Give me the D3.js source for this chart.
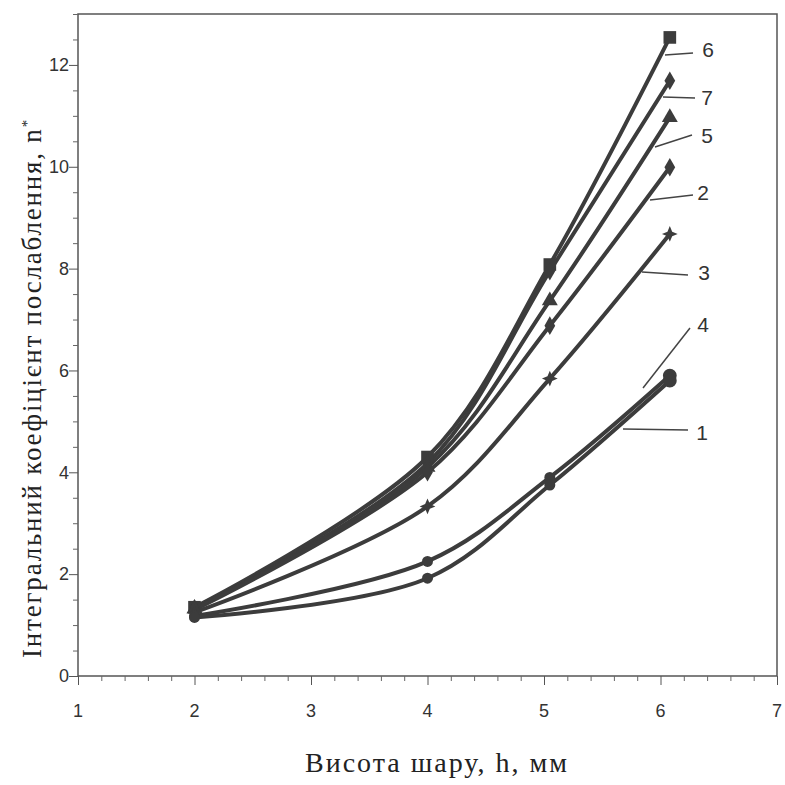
<!DOCTYPE html>
<html>
<head>
<meta charset="utf-8">
<script src="https://cdn.jsdelivr.net/npm/d3@7"></script>
<style>
  body { margin: 0; background: #fff; }
  .tick-label { font-family: "Liberation Sans", Arial, sans-serif; font-size: 18px; fill: #333; }
  .axis-title { font-family: "Liberation Serif", "Times New Roman", serif; fill: #222; }
  .series-label { font-family: "Liberation Sans", Arial, sans-serif; font-size: 21px; fill: #333; }
</style>
</head>
<body>
<div id="canvas"></div>
<script>
"use strict";

/* Data */
let heights = [2, 4, 5.05, 6.08];           // x positions of the measurements
let seriesNames = ["6", "7", "5", "2", "3", "4", "1"];
let series6 = [1.35, 4.30, 8.08, 12.54];
let series7 = [1.33, 4.18, 7.95, 11.69];
let series5 = [1.32, 4.10, 7.37, 10.97];
let series2 = [1.30, 4.00, 6.88, 9.99];
let series3 = [1.25, 3.33, 5.84, 8.68];
let series4 = [1.18, 2.25, 3.90, 5.90];
let series1 = [1.15, 1.92, 3.75, 5.80];
let seriesMarkers = ["square", "diamond", "triangle", "diamond", "star4", "circle", "circle"];
let xTicks = [1, 2, 3, 4, 5, 6, 7];
let yTicks = [0, 2, 4, 6, 8, 10, 12];

let allSeries = [series6, series7, series5, series2, series3, series4, series1];

/* Drawing config */
let svgWidth = 785;
let svgHeight = 785;
let margin = { left: 78, right: 8, top: 14, bottom: 109 };
let ink = "#3c3c3c";

let svg = d3.select("#canvas")
  .append("svg")
  .attr("width", svgWidth)
  .attr("height", svgHeight);

let xScale = d3.scaleLinear()
  .domain([1, 7])
  .range([margin.left, svgWidth - margin.right]);

let yScale = d3.scaleLinear()
  .domain([0, 13])
  .range([svgHeight - margin.bottom, margin.top]);

/* Frame */
svg.append("rect")
  .attr("x", xScale(1))
  .attr("y", yScale(13))
  .attr("width", xScale(7) - xScale(1))
  .attr("height", yScale(0) - yScale(13))
  .attr("fill", "none")
  .attr("stroke", "#555")
  .attr("stroke-width", 1.5);

/* X axis: majors every 1, minors every 0.2, pointing down */
svg.append("g")
  .attr("transform", "translate(0," + yScale(0) + ")")
  .call(d3.axisBottom(xScale).tickValues(xTicks).tickSize(9).tickFormat(""))
  .call(g => g.select(".domain").remove())
  .call(g => g.selectAll("line").attr("stroke", "#555"));

let xMinor = d3.range(1, 7.001, 0.2).filter(v => Math.abs(v - Math.round(v)) > 0.01);
svg.append("g")
  .attr("transform", "translate(0," + yScale(0) + ")")
  .call(d3.axisBottom(xScale).tickValues(xMinor).tickSize(5).tickFormat(""))
  .call(g => g.select(".domain").remove())
  .call(g => g.selectAll("line").attr("stroke", "#666"));

svg.selectAll(".x-label")
  .data(xTicks)
  .enter()
  .append("text")
  .attr("class", "tick-label")
  .attr("x", d => xScale(d))
  .attr("y", yScale(0) + 41)
  .attr("text-anchor", "middle")
  .text(d => d);

/* Y axis: majors every 2, minors every 0.5, pointing left */
svg.append("g")
  .attr("transform", "translate(" + xScale(1) + ",0)")
  .call(d3.axisLeft(yScale).tickValues(yTicks).tickSize(9).tickFormat(""))
  .call(g => g.select(".domain").remove())
  .call(g => g.selectAll("line").attr("stroke", "#555"));

let yMinor = d3.range(0, 13.001, 0.5).filter(v => v % 2 !== 0);
svg.append("g")
  .attr("transform", "translate(" + xScale(1) + ",0)")
  .call(d3.axisLeft(yScale).tickValues(yMinor).tickSize(5).tickFormat(""))
  .call(g => g.select(".domain").remove())
  .call(g => g.selectAll("line").attr("stroke", "#666"));

svg.selectAll(".y-label")
  .data(yTicks)
  .enter()
  .append("text")
  .attr("class", "tick-label")
  .attr("x", xScale(1) - 9)
  .attr("y", d => yScale(d))
  .attr("dy", "0.35em")
  .attr("text-anchor", "end")
  .text(d => d);

/* Axis titles */
svg.append("text")
  .attr("class", "axis-title")
  .attr("x", 437)
  .attr("y", 772)
  .attr("text-anchor", "middle")
  .attr("font-size", "28px")
  .attr("letter-spacing", "2px")
  .text("Висота шару, h, мм");

let yTitle = svg.append("text")
  .attr("class", "axis-title")
  .attr("transform", "translate(41,388) rotate(-90)")
  .attr("text-anchor", "middle")
  .attr("font-size", "27px")
  .attr("letter-spacing", "1.8px");
yTitle.append("tspan").text("Інтегральний коефіцієнт послаблення, n");
yTitle.append("tspan").attr("dy", "-0.6em").attr("font-size", "15px").text("*");

/* Lines */
let line = d3.line()
  .x((d, i) => xScale(heights[i]))
  .y(d => yScale(d))
  .curve(d3.curveCatmullRom.alpha(0.5));

svg.selectAll(".series-line")
  .data(allSeries)
  .enter()
  .append("path")
  .attr("d", d => line(d))
  .attr("fill", "none")
  .attr("stroke", ink)
  .attr("stroke-width", 4);

/* Markers */
// four-pointed star like the one on curve 3
let star4 = {
  draw: function (context, size) {
    let r = Math.sqrt(size) * 0.75;
    let k = r * 0.3;
    context.moveTo(0, -r);
    context.lineTo(k, -k);
    context.lineTo(r, 0);
    context.lineTo(k, k);
    context.lineTo(0, r);
    context.lineTo(-k, k);
    context.lineTo(-r, 0);
    context.lineTo(-k, -k);
    context.closePath();
  }
};

let symbolTypes = {
  square: d3.symbolSquare,
  diamond: d3.symbolDiamond,
  triangle: d3.symbolTriangle,
  star4: star4,
  circle: d3.symbolCircle
};
let symbolSizes = { square: 160, diamond: 100, triangle: 110, star4: 110, circle: 95 };

allSeries.forEach(function (values, s) {
  let kind = seriesMarkers[s];
  svg.selectAll(".m" + s)
    .data(values)
    .enter()
    .append("path")
    .attr("transform", (d, i) => "translate(" + xScale(heights[i]) + "," + yScale(d) + ")")
    .attr("d", (d, i) => d3.symbol()
      .type(symbolTypes[kind])
      .size(kind === "circle" && i === values.length - 1 ? 150 : symbolSizes[kind])())
    .attr("fill", ink);
});

/* Series labels with leader lines */
let labelPos = [
  { x: 708, y: 50, x1: 665, y1: 55, x2: 693, y2: 53 },
  { x: 707, y: 98, x1: 663, y1: 97, x2: 695, y2: 98 },
  { x: 707, y: 136, x1: 655, y1: 147, x2: 692, y2: 135 },
  { x: 703, y: 193, x1: 650, y1: 200, x2: 693, y2: 195 },
  { x: 704, y: 273, x1: 642, y1: 272, x2: 688, y2: 275 },
  { x: 703, y: 325, x1: 643, y1: 388, x2: 690, y2: 328 },
  { x: 702, y: 433, x1: 623, y1: 429, x2: 688, y2: 430 }
];

seriesNames.forEach(function (name, i) {
  let p = labelPos[i];
  svg.append("line")
    .attr("x1", p.x1).attr("y1", p.y1)
    .attr("x2", p.x2).attr("y2", p.y2)
    .attr("stroke", "#444")
    .attr("stroke-width", 1.5);
  svg.append("text")
    .attr("class", "series-label")
    .attr("x", p.x)
    .attr("y", p.y)
    .attr("dy", "0.35em")
    .attr("text-anchor", "middle")
    .text(name);
});
</script>
</body>
</html>
